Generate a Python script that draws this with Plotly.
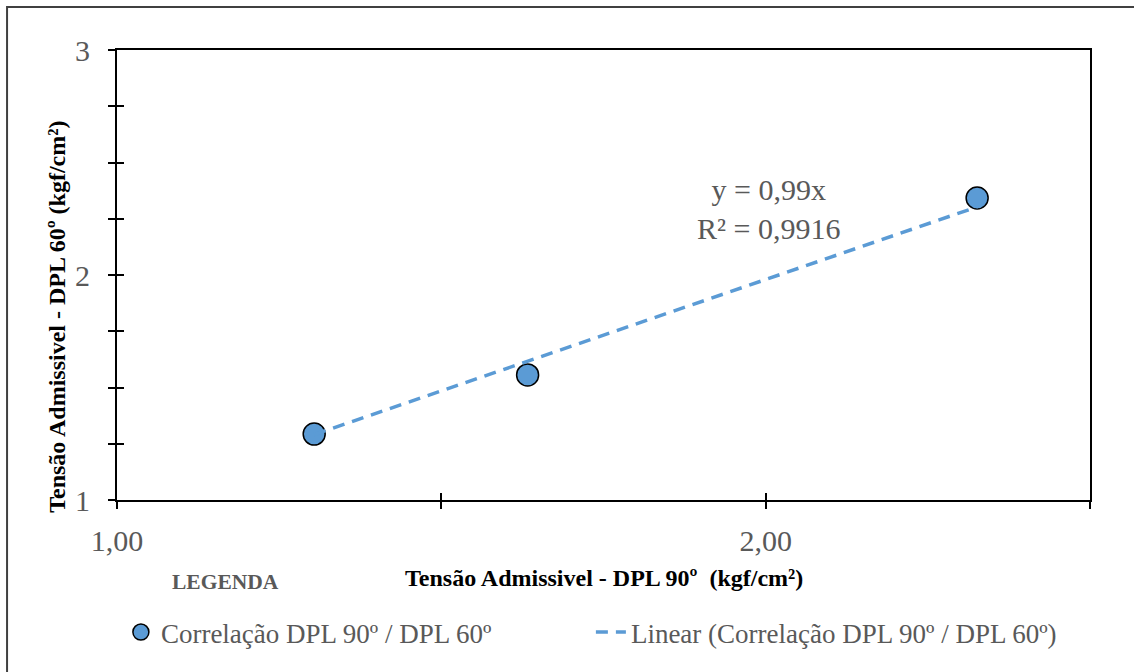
import numpy as np
import plotly.graph_objects as go

# Data
x_dpl90 = [1.304, 1.633, 2.326]
y_dpl60 = [1.293, 1.556, 2.342]
slope = 0.99

x_tickvals = [1.0, 1.5, 2.0, 2.5]
x_ticktext = ["1,00", "", "2,00", ""]
y_tickvals = [1.0, 1.25, 1.5, 1.75, 2.0, 2.25, 2.5, 2.75, 3.0]
y_ticktext = ["1", "", "", "", "2", "", "", "", "3"]

series_name = "Correlação DPL 90º / DPL 60º"
trend_name = "Linear (Correlação DPL 90º / DPL 60º)"
eq_text = "y = 0,99x<br>R² = 0,9916"

SERIF = "Liberation Serif, Times New Roman, serif"
GRAY = "#595959"
BLUE = "#5B9BD5"

xs = np.array([min(x_dpl90), max(x_dpl90)])
ys = slope * xs

fig = go.Figure()
fig.add_trace(go.Scatter(
    x=x_dpl90, y=y_dpl60, mode="markers", name=series_name,
    marker=dict(size=22, color=BLUE, line=dict(color="black", width=1.5)),
))
fig.add_trace(go.Scatter(
    x=xs, y=ys, mode="lines", name=trend_name,
    line=dict(color=BLUE, width=3.5, dash="12px,8px"),
))
# hidden helper trace on overlay axes to produce crossing ticks
fig.add_trace(go.Scatter(
    x=x_dpl90, y=y_dpl60, mode="markers", xaxis="x2", yaxis="y2",
    marker=dict(opacity=0), showlegend=False, hoverinfo="skip",
))

axis_common = dict(showgrid=False, zeroline=False)
fig.update_layout(
    width=1134, height=672,
    margin=dict(l=117, r=44, t=50, b=172),
    paper_bgcolor="white", plot_bgcolor="white",
    font=dict(family=SERIF, color=GRAY),
    xaxis=dict(range=[1.0, 2.5], tickvals=x_tickvals, ticktext=x_ticktext,
               ticks="outside", ticklen=7, tickwidth=1.5, tickcolor="black",
               showline=True, linewidth=2, linecolor="black", mirror=True,
               tickfont=dict(size=30, color=GRAY, family=SERIF),
               ticklabelstandoff=6, **axis_common),
    yaxis=dict(range=[1.0, 3.0], tickvals=y_tickvals, ticktext=y_ticktext,
               ticks="outside", ticklen=7, tickwidth=1.5, tickcolor="black",
               showline=True, linewidth=2, linecolor="black", mirror=True,
               tickfont=dict(size=30, color=GRAY, family=SERIF),
               ticklabelstandoff=12, **axis_common),
    xaxis2=dict(range=[1.0, 2.5], tickvals=x_tickvals, overlaying="x",
                anchor="y", side="bottom",
                ticks="inside", ticklen=7, tickwidth=1.5, tickcolor="black",
                showticklabels=False, showline=False, **axis_common),
    yaxis2=dict(range=[1.0, 3.0], tickvals=y_tickvals, overlaying="y",
                anchor="x", side="left",
                ticks="inside", ticklen=7, tickwidth=1.5, tickcolor="black",
                showticklabels=False, showline=False, **axis_common),
    showlegend=True,
    legend=dict(orientation="h", x=0.004, xanchor="left", y=-0.24, yanchor="top",
                font=dict(size=27, color=GRAY, family=SERIF),
                entrywidth=425, entrywidthmode="pixels",
                bgcolor="rgba(0,0,0,0)"),
    annotations=[
        dict(text=eq_text, x=2.005, y=2.293, xref="x", yref="y",
             xanchor="center", yanchor="middle",
             showarrow=False, font=dict(size=30, color=GRAY, family=SERIF),
             align="center"),
        dict(text="<b>Tensão Admissivel - DPL 90º  (kgf/cm²)</b>",
             x=0.5, y=-0.173, xref="paper", yref="paper", showarrow=False,
             xanchor="center", yanchor="middle",
             font=dict(size=24, color="black", family=SERIF)),
        dict(text="<b>Tensão Admissivel - DPL 60º (kgf/cm²)</b>",
             x=-0.0617, y=0.407, xref="paper", yref="paper", showarrow=False,
             xanchor="center", yanchor="middle",
             textangle=-90, font=dict(size=24, color="black", family=SERIF)),
        dict(text="<b>LEGENDA</b>", x=0.111, y=-0.182, xref="paper", yref="paper",
             xanchor="center", yanchor="middle",
             showarrow=False, font=dict(size=21.5, color=GRAY, family=SERIF)),
    ],
    shapes=[
        dict(type="rect", xref="paper", yref="paper",
             x0=-0.113, x1=1.2, y0=-0.5, y1=1.0956,
             line=dict(color="#404040", width=2), fillcolor="rgba(0,0,0,0)",
             layer="below"),
    ],
)

fig.write_html("out.html")
